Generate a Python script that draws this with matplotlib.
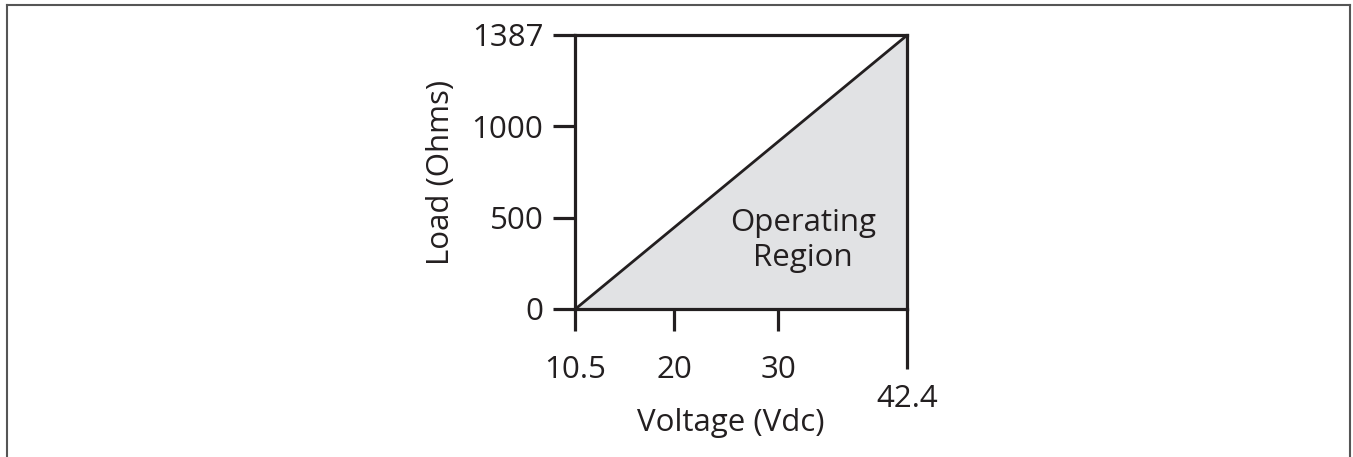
import numpy as np
import matplotlib.pyplot as plt
from matplotlib.lines import Line2D

# Operating region: load limit vs supply voltage
voltage = [10.5, 42.4]
load = [0, 1387]
x_ticks = [10.5, 20, 30, 42.4]
x_tick_labels = ["10.5", "20", "30", "42.4"]
y_ticks = [0, 500, 1000, 1387]
y_tick_labels = ["0", "500", "1000", "1387"]

ink = "#231f20"
plt.rcParams['font.family'] = ['Open Sans', 'DejaVu Sans']

fig = plt.figure(figsize=(13.53, 4.57), dpi=100)
ax = fig.add_axes([0.4253, 0.3239, 0.2454, 0.5996])

# the original drawing puts the load ticks at equal steps
steps = np.arange(len(y_ticks))
ax.set_yscale('function', functions=(lambda v: np.interp(v, y_ticks, steps),
                                     lambda s: np.interp(s, steps, y_ticks)))

# shaded triangle under the limit line
ax.fill_between(voltage, load, 0, color="#e1e2e4", linewidth=0)
ax.plot(voltage, load, color=ink, linewidth=2.0, solid_capstyle='butt')

ax.set_xlim(voltage[0], voltage[1])
ax.set_ylim(load[0], load[1])

for side in ['left', 'right', 'top', 'bottom']:
    ax.spines[side].set_color(ink)
    ax.spines[side].set_linewidth(2.3)

ax.set_xticks(x_ticks[:-1])
ax.set_xticklabels(x_tick_labels[:-1])
ax.set_yticks(y_ticks)
ax.set_yticklabels(y_tick_labels)
ax.yaxis.set_minor_locator(plt.NullLocator())
ax.tick_params(axis='x', direction='out', length=16, width=2.3, color=ink,
               labelsize=22.5, labelcolor=ink, pad=17)
ax.tick_params(axis='y', direction='out', length=16, width=2.3, color=ink,
               labelsize=22.5, labelcolor=ink, pad=7)

# long tick at the right end for 42.4
ax.annotate(x_tick_labels[-1], xy=(x_ticks[-1], 0), xycoords=('data', 'axes fraction'),
            xytext=(0, -54), textcoords='offset points', ha='center', va='top',
            fontsize=22.5, color=ink, annotation_clip=False)
ax.plot([x_ticks[-1], x_ticks[-1]], [0, -0.22], transform=ax.get_xaxis_transform(),
        color=ink, linewidth=2.3, clip_on=False, solid_capstyle='butt')

ax.text(32.35, 375, "Operating\nRegion", ha='center', va='center',
        fontsize=22.5, color=ink, linespacing=1.2)

ax.set_ylabel("Load (Ohms)", fontsize=22.5, color=ink, labelpad=11)
ax.set_xlabel("Voltage (Vdc)", fontsize=22.5, color=ink)
ax.xaxis.set_label_coords(0.467, -0.36)

# thin frame around the figure (no bottom edge)
frame = dict(color="#555555", linewidth=1.5, transform=fig.transFigure)
fig.add_artist(Line2D([0.0055, 0.0055], [0.0, 0.989], **frame))
fig.add_artist(Line2D([0.0055, 0.998], [0.989, 0.989], **frame))
fig.add_artist(Line2D([0.998, 0.998], [0.0, 0.989], **frame))

fig.savefig("out.png", dpi=100)
